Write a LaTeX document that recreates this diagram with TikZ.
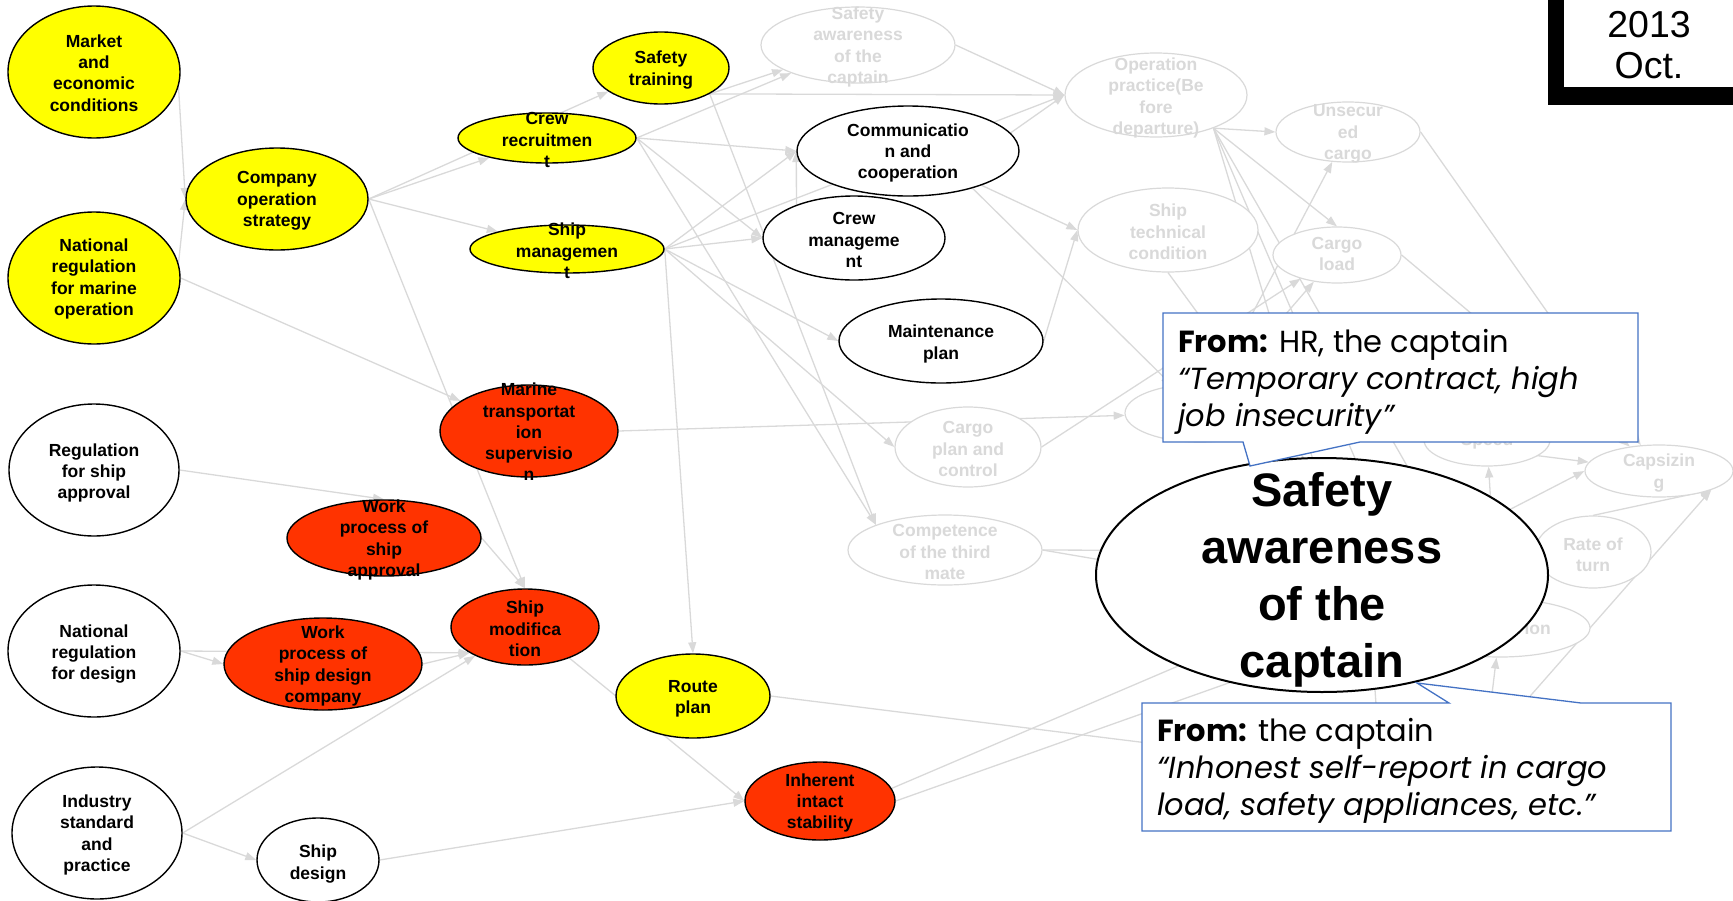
\documentclass[tikz,border=0pt]{standalone}
\usepackage{fontspec}
\setmainfont{Liberation Sans}
\newfontfamily\gothic{Poppins}
\usetikzlibrary{shapes.geometric,arrows.meta}
\definecolor{faded}{RGB}{217,217,217}
\definecolor{nodeyellow}{RGB}{255,255,0}
\definecolor{nodered}{RGB}{255,51,0}
\definecolor{calloutblue}{RGB}{68,114,196}
\pgfdeclarelayer{bg}
\pgfsetlayers{bg,main}
\newcommand\nodefont{\fontsize{17.5}{21.3}\selectfont\bfseries}
% style, name, x, y, rx, ry, text y, text
\newcommand\enode[8]{%
  \node[#1, minimum width={2*#5}, minimum height={2*#6}] (#2) at (#3,#4) {};
  \node[#1-t] at (#3,#7) {#8};}
\tikzset{
  base/.style={ellipse, inner sep=0pt, line width=1.4pt},
  ynode/.style={base, draw=black, fill=nodeyellow},
  rnode/.style={base, draw=black, fill=nodered},
  wnode/.style={base, draw=black, fill=white},
  fnode/.style={base, draw=faded, fill=white, line width=1.2pt},
  plaintext/.style={inner sep=0pt, align=center, font=\nodefont},
  ynode-t/.style={plaintext, text=black},
  rnode-t/.style={plaintext, text=black},
  wnode-t/.style={plaintext, text=black},
  fnode-t/.style={plaintext, text=faded},
  edge/.style={draw=faded, line width=1.3pt, -{Triangle[length=11pt,width=8pt]}},
  callout/.style={draw=calloutblue, line width=1.3pt, fill=white, line join=miter},
  ctext/.style={inner sep=0pt, font=\gothic\fontsize{30.5}{37}\selectfont},
}
\begin{document}
\begin{tikzpicture}[x=1pt, y=-1pt]
\useasboundingbox (0,0) rectangle (1733,900);

% ---- causal factors ----
\enode{ynode}{market}{94}{72}{86}{66}{73}{Market\\and\\economic\\conditions}
\enode{ynode}{natmar}{94}{278}{86}{66}{279}{National\\regulation\\for marine\\operation}
\enode{ynode}{company}{277}{199}{91}{51}{201}{Company\\operation\\strategy}
\enode{ynode}{safetytr}{661}{68}{68}{36}{70}{Safety\\training}
\enode{ynode}{crewrec}{547}{138}{89}{25}{140}{Crew\\recruitmen\\t}
\enode{ynode}{shipmgmt}{567}{249}{97}{24}{251}{Ship\\managemen\\t}
\enode{fnode}{safaw}{858}{45}{97}{38}{47}{Safety\\awareness\\of the\\captain}
\enode{wnode}{comm}{908}{151}{111}{45}{153}{Communicatio\\n and\\cooperation}
\enode{wnode}{crewmgmt}{854}{238}{91}{42}{240}{Crew\\manageme\\nt}
\enode{wnode}{maint}{941}{341}{102}{42}{344}{Maintenance\\plan}
\enode{fnode}{cargoplan}{968}{447}{73}{40}{449}{Cargo\\plan and\\control}
\enode{fnode}{comp}{945}{550}{97}{35}{552}{Competence\\of the third\\mate}
\enode{fnode}{opprac}{1156}{95}{91}{42}{98}{Operation\\practice(Be\\fore\\departure)}
\enode{fnode}{shiptech}{1168}{230}{90}{42}{232}{Ship\\technical\\condition}
\enode{fnode}{unsec}{1348}{132}{72}{30}{134}{Unsecur\\ed\\cargo}
\enode{fnode}{cargoload}{1337}{255}{64}{28}{254}{Cargo\\load}
\node[fnode, minimum width=150, minimum height=58] (hid) at (1200,413) {};
\enode{fnode}{speed}{1487}{440}{63}{26}{441}{Speed}
\enode{fnode}{capsize}{1659}{471}{74}{26}{473}{Capsizin\\g}
\enode{fnode}{rate}{1593}{552}{58}{36}{555}{Rate of\\turn}
\node[fnode, minimum width=180, minimum height=58] (ion) at (1500,628) {};
\node[fnode-t, anchor=east] (iontext) at (1551,628) {ion};
\enode{rnode}{marine}{529}{431}{89}{46}{432}{Marine\\transportat\\ion\\supervisio\\n}
\enode{wnode}{regapp}{94}{470}{85}{66}{473}{Regulation\\for ship\\approval}
\enode{rnode}{wpapp}{384}{538}{97}{38}{540}{Work\\process of\\ship\\approval}
\enode{wnode}{natdes}{94}{651}{86}{66}{654}{National\\regulation\\for design}
\enode{rnode}{wpdes}{323}{664}{99}{46}{666}{Work\\process of\\ship design\\company}
\enode{rnode}{shipmod}{525}{627}{74}{38}{629}{Ship\\modifica\\tion}
\enode{wnode}{industry}{97}{833}{85}{66}{835}{Industry\\standard\\and\\practice}
\enode{wnode}{shipdes}{318}{860}{61}{42}{864}{Ship\\design}
\enode{ynode}{route}{693}{696}{77}{42}{699}{Route\\plan}
\enode{rnode}{inherent}{820}{801}{75}{39}{803}{Inherent\\intact\\stability}

% free ends of links that run behind the captain ellipse and the notes
\coordinate (ma) at (1300,614);
\coordinate (mb) at (1330,647);
\coordinate (mc) at (1420,556);
\coordinate (md) at (1370,620);
\coordinate (me) at (1349,520);
\coordinate (mf) at (1337,540);
\coordinate (mg) at (1390,540);
\coordinate (ms) at (1493,540);
\coordinate (na) at (1474,760);
\coordinate (nb) at (1484,760);
\coordinate (nc) at (1300,762);
\coordinate (nd) at (1380,760);

% ---- links ----
\begin{pgfonlayer}{bg}
\draw[edge] (market.350) -- (company.west);
\draw[edge] (natmar.10) -- (company.west);
\draw[edge] (natmar.east) -- (marine);
\draw[edge] (company.east) -- (crewrec);
\draw[edge] (company.east) -- (safetytr);
\draw[edge] (company.east) -- (shipmgmt);
\draw[edge] (company.east) -- (shipmod.north);
\draw[edge] (regapp.east) -- (wpapp.north);
\draw[edge] (wpapp.east) -- (shipmod.north);
\draw[edge] (natdes.east) -- (wpdes.west);
\draw[edge] (natdes.east) -- (shipmod.205);
\draw[edge] (wpdes.east) -- (shipmod.205);
\draw[edge] (industry.east) -- (shipmod.210);
\draw[edge] (industry.east) -- (shipdes.west);
\draw[edge] (shipdes.east) -- (inherent.west);
\draw[edge] (shipmod.-35) -- (inherent.west);
\draw[edge] (marine.east) -- (hid);
\draw[edge] (shipmgmt.east) -- (route.north);
\draw[edge] (shipmgmt.east) -- (crewmgmt.west);
\draw[edge] (shipmgmt.east) -- (comm.west);
\draw[edge] (shipmgmt.east) -- (opprac.west);
\draw[edge] (shipmgmt.east) -- (maint.west);
\draw[edge] (shipmgmt.east) -- (cargoplan.west);
\draw[edge] (crewrec.east) -- (comm.west);
\draw[edge] (crewrec.east) -- (crewmgmt.west);
\draw[edge] (crewrec.east) -- (safaw);
\draw[edge] (crewrec.east) -- (comp.160);
\draw[edge] (safetytr.-28) -- (safaw);
\draw[edge] (safetytr.-28) -- (opprac.west);
\draw[edge] (safetytr.-28) -- (comp.160);
\draw[edge] (safaw.east) -- (opprac.west);
\draw[edge] (comm.10) -- (opprac.west);
\draw[edge] (comm.-25) -- (shiptech.west);
\draw[edge] (comm.-30) -- (hid);
\draw[edge] (crewmgmt.150) -- (comm.west);
\draw[edge] (maint.east) -- (shiptech.west);
\draw[edge] (cargoplan.east) -- (cargoload);
\draw[edge] (comp.east) -- (rate);
\draw[edge] (comp.east) -- (ion);
\draw[edge] (opprac.-30) -- (unsec.west);
\draw[edge] (opprac.-30) -- (cargoload.north);
\draw[edge] (opprac.-30) -- (ion);
\draw[edge] (opprac.-30) -- (mf);
\draw[edge] (opprac.-30) -- (mg);
\draw[edge] (shiptech.south) -- (me);
\draw[edge] (hid) -- (unsec);
\draw[edge] (hid) -- (cargoload);
\draw[edge] (hid) -- (capsize);
\draw[edge] (unsec.east) -- (capsize);
\draw[edge] (cargoload.east) -- (capsize);
\draw[edge] (rate.north) -- (capsize.-20);
\draw[edge] (na) -- (capsize.-20);
\draw[edge] (nb) -- (ion);
\draw[edge] (mc) -- (capsize.west);
\draw[edge] (ms) -- (speed);
\draw[edge] (route.east) -- (nc);
\draw[edge] (inherent.10) -- (ma);
\draw[edge] (inherent.east) -- (mb);
\draw[edge] (nd) -- (md);
\end{pgfonlayer}

% ---- focus factor ----
\node[wnode, line width=2pt, minimum width=452, minimum height=234] (main) at (1322,575) {};
\node[plaintext, font=\fontsize{47}{57}\selectfont\bfseries] (maintext) at (1322,580) {Safety\\awareness\\of the\\captain};

% ---- interview notes ----
\draw[callout] (1163,313) -- (1638,313) -- (1638,442) -- (1360,442) -- (1250,466) -- (1243,442) -- (1163,442) -- cycle;
\node[ctext, anchor=base west] (n1a) at (1178,352) {\textbf{From:} HR, the captain};
\node[ctext, anchor=base west] (n1b) at (1178,389) {\itshape “Temporary contract, high};
\node[ctext, anchor=base west] (n1c) at (1178,426) {\itshape job insecurity”};

\draw[callout] (1142,703) -- (1449,703) -- (1417,683) -- (1581,703) -- (1671,703) -- (1671,831) -- (1142,831) -- cycle;
\node[ctext, anchor=base west] (n2a) at (1157,741) {\textbf{From:} the captain};
\node[ctext, anchor=base west] (n2b) at (1157,778) {\itshape “Inhonest self-report in cargo};
\node[ctext, anchor=base west] (n2c) at (1157,815) {\itshape load, safety appliances, etc.”};

% ---- date tag ----
\fill[black] (1548,0) rectangle (1733,105);
\fill[white] (1564,0) rectangle (1733,87);
\node[inner sep=0pt, font=\fontsize{37.5}{43}\selectfont, anchor=base] (year) at (1649,37) {2013};
\node[inner sep=0pt, font=\fontsize{37.5}{43}\selectfont, anchor=base] (month) at (1649,78) {Oct.};
\end{tikzpicture}
\end{document}
